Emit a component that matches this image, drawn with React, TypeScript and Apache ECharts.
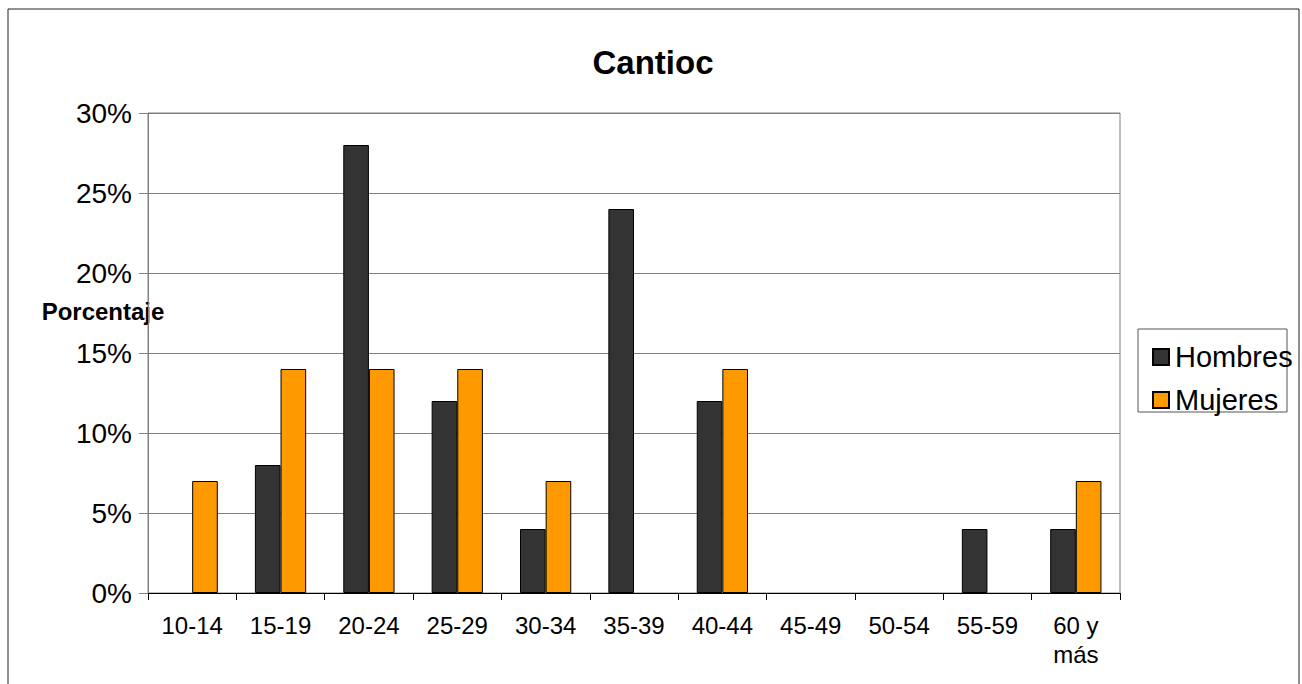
import React, { useEffect, useRef } from "react";
import * as echarts from "echarts";

// Age groups and the share of each sex in every group (percent)
const ageGroups = ["10-14", "15-19", "20-24", "25-29", "30-34", "35-39", "40-44", "45-49", "50-54", "55-59", "60 y más"];
const hombres = [0, 8, 28, 12, 4, 24, 12, 0, 0, 4, 4];
const mujeres = [7, 14, 14, 14, 7, 0, 14, 0, 0, 0, 7];
const seriesNames = ["Hombres", "Mujeres"];
const chartTitle = "Cantioc";
const yAxisTitle = "Porcentaje";

const FONT = "'Liberation Sans', Arial, Helvetica, sans-serif";

// Empty groups get no outline, so nothing is drawn on the axis for them
const toBarData = (values: number[]) =>
  values.map((v) => (v === 0 ? { value: v, itemStyle: { borderWidth: 0 } } : v));

export default function App() {
  const ref = useRef<HTMLDivElement>(null);

  useEffect(() => {
    if (!ref.current) return;
    const chart = echarts.init(ref.current, null, { renderer: "svg" });
    chart.setOption({
      animation: false,
      backgroundColor: "#ffffff",
      textStyle: { fontFamily: FONT },
      title: {
        text: chartTitle,
        left: 648,
        textAlign: "center",
        top: 41,
        textStyle: { fontFamily: FONT, fontSize: 33, fontWeight: "bold", color: "#000" },
      },
      legend: {
        left: 1147,
        top: 337,
        orient: "vertical",
        itemWidth: 16,
        itemHeight: 16,
        itemGap: 13,
        icon: "rect",
        data: seriesNames,
        textStyle: { fontFamily: FONT, fontSize: 29, color: "#000", lineHeight: 30, padding: [0, 0, 0, 1] },
      },
      grid: {
        left: 148,
        top: 113,
        right: 182,
        bottom: 91,
        show: true,
        borderColor: "#808080",
        borderWidth: 1,
      },
      xAxis: {
        type: "category",
        data: ageGroups,
        axisLine: { lineStyle: { color: "#000", width: 1 } },
        axisTick: { show: true, length: 7, lineStyle: { color: "#000" } },
        axisLabel: {
          fontFamily: FONT,
          fontSize: 24,
          color: "#000",
          margin: 18,
          lineHeight: 29,
          interval: 0,
          formatter: (v: string) => v.replace(" y ", " y\n"),
        },
      },
      yAxis: {
        type: "value",
        min: 0,
        max: 30,
        interval: 5,
        axisLine: { show: true, lineStyle: { color: "#808080", width: 1 } },
        axisTick: { show: true, length: 9, lineStyle: { color: "#808080" } },
        axisLabel: {
          fontFamily: FONT,
          fontSize: 28,
          color: "#000",
          margin: 16,
          formatter: "{value}%",
        },
        splitLine: { show: true, lineStyle: { color: "#808080", width: 1 } },
      },
      series: [
        {
          name: seriesNames[0],
          type: "bar",
          data: toBarData(hombres),
          barGap: "0%",
          barCategoryGap: "42%",
          itemStyle: { color: "#333333", borderColor: "#000", borderWidth: 1 },
        },
        {
          name: seriesNames[1],
          type: "bar",
          data: toBarData(mujeres),
          barGap: "0%",
          barCategoryGap: "42%",
          itemStyle: { color: "#ff9900", borderColor: "#000", borderWidth: 1 },
        },
      ],
      graphic: [
        {
          type: "rect",
          shape: { x: 8, y: 9, width: 1291, height: 700 },
          style: { fill: "none", stroke: "#222", lineWidth: 1 },
          silent: true,
        },
        {
          type: "rect",
          shape: { x: 1138, y: 329, width: 149, height: 83 },
          style: { fill: "none", stroke: "#555", lineWidth: 1 },
          silent: true,
        },
        {
          type: "text",
          x: 103,
          y: 311,
          style: {
            text: yAxisTitle,
            fontFamily: FONT,
            fontSize: 24,
            fontWeight: "bold",
            fill: "#000",
            align: "center",
            verticalAlign: "middle",
          },
        },
      ],
    });
    return () => chart.dispose();
  }, []);

  return (
    <div
      ref={ref}
      style={{ position: "fixed", left: 0, top: 0, width: 1302, height: 684 }}
    />
  );
}
